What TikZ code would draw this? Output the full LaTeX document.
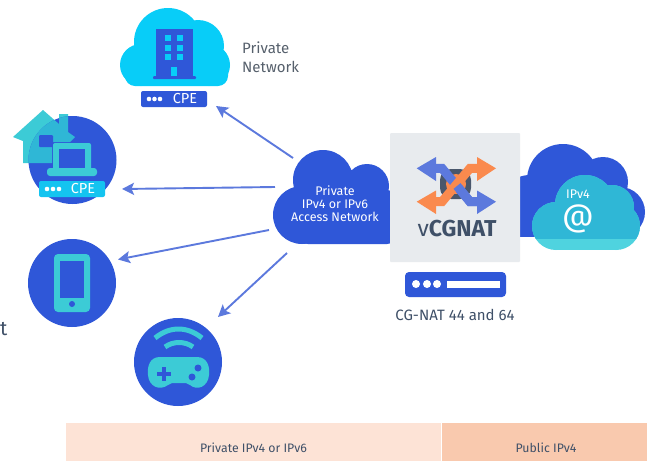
\documentclass[tikz,border=0pt]{standalone}
\usepackage{fontspec}
\setmainfont{Fira Sans}
\usetikzlibrary{arrows.meta}
\definecolor{blueA}{HTML}{2F57D8}
\definecolor{cyanA}{HTML}{08CDF8}
\definecolor{tealA}{HTML}{3CCBD6}
\definecolor{tealB}{HTML}{2FB7D6}
\definecolor{tealC}{HTML}{4FD3DF}
\definecolor{cpeC}{HTML}{14C4F0}
\definecolor{arrowC}{HTML}{5C79DD}
\definecolor{orangeA}{HTML}{FA8A4E}
\definecolor{slateA}{HTML}{3F5068}
\definecolor{grayT}{HTML}{56606C}
\tikzset{
  x=1pt,y=-1pt,
  conn/.style={draw=arrowC,line width=1.9pt,-{Stealth[length=12pt,width=12pt,inset=2.5pt]}},
  disc/.style={circle,fill=blueA,minimum size=88pt,inner sep=0pt},
  lbl/.style={text=white,font=\fontsize{12.5}{13}\selectfont,align=center,inner sep=0pt},
  captext/.style={text=grayT,inner sep=0pt},
  barlbl/.style={text=slateA,font=\fontsize{12.3}{13}\selectfont,inner sep=0pt},
  tagbox/.style={rounded corners=2pt},
}
\newcommand{\housepoly}{(13,137) -- (43,110) -- (59,124) -- (59,114) -- (68,114) -- (68,132) -- (75,137) -- (70,142) -- (52,142) -- (52,163) -- (23,163) -- (23,141) -- cycle}
\newcommand{\tealcloud}[1]{\fill[#1] (585,205) circle (30) (612,207) circle (22) (556,226) circle (24) (616,226) circle (24);\fill[#1] (556,215) rectangle (616,250);}
\begin{document}
\begin{tikzpicture}
\useasboundingbox (0,0) rectangle (648,461);
% bars
\fill[fill=white] (0,0) rectangle (648,461);
\node[fill={rgb,255:red,253;green,227;blue,214},minimum width=375pt,minimum height=38pt,inner sep=0pt] (barPriv) at (253.5,442) {};
\node[fill={rgb,255:red,249;green,201;blue,174},minimum width=205pt,minimum height=38pt,inner sep=0pt] (barPub) at (544.5,442) {};
\node[barlbl] (barPrivT) at (253.5,447.5) {Private IPv4 or IPv6};
\node[barlbl] (barPubT) at (546,447.5) {Public IPv4};
\node[text=slateA,font=\fontsize{20}{22}\selectfont,anchor=west,inner sep=0pt] (cutT) at (0,329) {t};
% top cloud
\fill[cyanA] (168,42) circle (34) (198,46) circle (26) (141,65) circle (21) (209,65) circle (21);
\fill[cyanA,rounded corners=10pt] (125,62) rectangle (228,86);
\fill[blueA] (156,29) rectangle (193,76);
\fill[blueA,rounded corners=1pt] (153,76) rectangle (196,79);
\foreach \cx in {168,180}\foreach \cy in {38,48,57}{\fill[cyanA] (\cx-3,\cy-3) rectangle (\cx+3,\cy+3);}
\fill[cyanA] (171,67) rectangle (177,76);
\fill[blueA,tagbox] (141,91) rectangle (207,107);
\foreach \cx in {149,154.5,160}{\fill[white] (\cx,99) circle (2.3);}
\node[text=white,font=\fontsize{14.5}{15}\selectfont,inner sep=0pt] (cpeTop) at (185,99) {CPE};
\node[captext,font=\fontsize{15}{19}\selectfont,align=left,anchor=north west] (privNet) at (242,42) {Private\\Network};
% home disc
\fill[tealA] \housepoly;
\node[disc] (home) at (72.5,160) {};
\begin{scope}
\clip (72.5,160) circle (44);
\fill[tealB] \housepoly;
\end{scope}
\fill[blueA,rounded corners=1pt] (39,135) rectangle (53,147);
\fill[tealA,rounded corners=2pt] (53,143) rectangle (91,170);
\fill[blueA] (59,149) rectangle (85,169);
\fill[tealA,rounded corners=3pt] (47,168) rectangle (97,176);
\fill[cpeC,tagbox] (39,181) rectangle (105,197);
\foreach \cx in {47,53,59}{\fill[white] (\cx,189) circle (2.3);}
\node[text=white,font=\fontsize{14.5}{15}\selectfont,inner sep=0pt] (cpeHome) at (83,189) {CPE};
% phone
\node[disc] (phone) at (72,283) {};
\fill[tealA,rounded corners=4pt] (54,254) rectangle (90,312);
\fill[blueA] (60,261) rectangle (84,298);
\fill[blueA] (72,304) circle (3);
% game
\node[disc] (game) at (178,362) {};
\draw[tealA,line width=5pt] (155,338) .. controls (170,326) and (187,326) .. (202,338);
\draw[tealA,line width=5pt] (165,347) .. controls (173,341) and (185,341) .. (193,347);
\fill[tealA] (160,357) -- (197,357) .. controls (208,357) and (210,368) .. (209,375) .. controls (208,387) and (197,391) .. (190,385) -- (186,383) -- (172,383) -- (168,385) .. controls (160,391) and (149,387) .. (148,375) .. controls (147,366) and (150,357) .. (160,357) -- cycle;
\fill[blueA] (157,372) rectangle (171,376);
\fill[blueA] (162,367) rectangle (166,381);
\fill[blueA] (198,368) circle (3.5) (192,377) circle (3.5);
% access cloud
\fill[blueA] (323,180) circle (30) (367,186) circle (22) (302,215) circle (29);
\fill[blueA,rounded corners=8pt] (300,190) rectangle (395,244);
\node[lbl] (access) at (335,204) {Private\\IPv4 or IPv6\\Access Network};
% right cloud
\fill[blueA] (563,180) circle (36) (603,182) circle (25) (620,212) circle (25) (530,205) circle (30);
\fill[blueA] (505,190) rectangle (620,237);
\tealcloud{tealC}
\begin{scope}
\clip (520,170) rectangle (648,238);
\tealcloud{tealB}
\end{scope}
\node[text=white,font=\fontsize{12.5}{14}\selectfont,inner sep=0pt] (ipvf) at (578,194) {IPv4};
\node[text=white,font=\fontsize{31}{32}\selectfont,inner sep=0pt] (atsign) at (578,219) {@};
% gray box
\node[fill={rgb,255:red,232;green,235;blue,238},minimum width=130pt,minimum height=129pt,inner sep=0pt,rounded corners=1pt] (box) at (455,197.5) {};
\fill[slateA!85!gray,rounded corners=11pt] (440,169) rectangle (471,199);
\fill[orangeA] (456,184) circle (10);
% arrows icon
\fill[arrowC] (416.7,168.3) -- (436,157) -- (436,181) -- cycle;
\draw[arrowC,line width=9pt] (430,168.3) -- (442,168.3) -- (470,201.7) -- (484,201.7);
\fill[orangeA] (416.7,201.7) -- (436,190.5) -- (436,214) -- cycle;
\fill[orangeA] (496,168.3) -- (477,157) -- (477,181) -- cycle;
\draw[orangeA,line width=9pt] (430,201.7) -- (442,201.7) -- (470,168.3) -- (484,168.3);
\fill[arrowC] (496,201.7) -- (477,190.5) -- (477,214) -- cycle;
\draw[arrowC,line width=9pt] (457,186) -- (470,201.7) -- (484,201.7);
\node[text=slateA,font=\fontsize{23}{26}\selectfont,inner sep=0pt] (vcg) at (457,229) {v\textbf{CGNAT}};
% server
\node[fill=blueA,rounded corners=4pt,minimum width=101pt,minimum height=25pt,inner sep=0pt] (server) at (455.5,284.5) {};
\foreach \cx in {416,427,437}{\fill[white] (\cx,284) circle (4);}
\fill[white] (447,281) rectangle (500,288);
\node[captext,font=\fontsize{15}{16}\selectfont,text=slateA] (cgnat) at (455,315) {CG-NAT 44 and 64};
% connectors
\coordinate (a1s) at (293,158); \coordinate (a1e) at (216,106);
\coordinate (a2s) at (275,187); \coordinate (a2e) at (122,189);
\coordinate (a3s) at (269,230); \coordinate (a3e) at (118,259.5);
\coordinate (a4s) at (287,253); \coordinate (a4e) at (218,317);
\draw[conn] (a1s) -- (a1e);
\draw[conn] (a2s) -- (a2e);
\draw[conn] (a3s) -- (a3e);
\draw[conn] (a4s) -- (a4e);
\end{tikzpicture}
\end{document}
